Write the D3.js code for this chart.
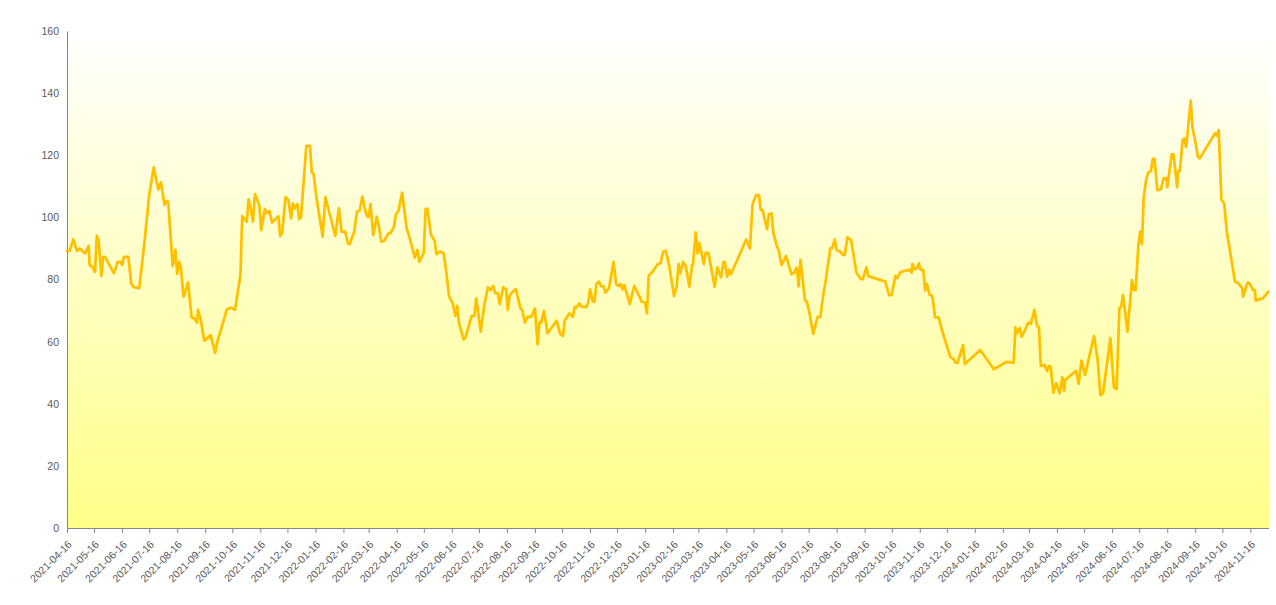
<!DOCTYPE html>
<html><head><meta charset="utf-8">
<script src="https://cdn.jsdelivr.net/npm/d3@7"></script>
<style>
html,body{margin:0;padding:0;background:#fff;}
svg{display:block;font-family:"Liberation Sans",Arial,sans-serif;}
</style>
</head><body>
<svg id="c" width="1276" height="605"></svg>
<script>
// ---- data ----
const startDate = "2021-04-16";
// days since startDate
const dayOffsets = [
0,3,7,11,14,20,24,25,28,31,33,35,38,40,42,52,56,59,61,63,68,71,74,80,86,91,96,101,104,108,110,112,115,117,120,122,124,126,129,134,138,141,144,145,148,152,159,164,166,177,182,186,192,194,199,201,203,206,208,213,215,219,221,224,227,234,236,238,242,245,248,250,252,255,257,259,265,269,271,273,276,283,286,297,301,
304,308,311,313,318,321,324,327,329,332,334,336,339,343,345,348,351,356,358,362,364,367,371,376,380,385,388,390,395,397,399,403,407,409,413,417,420,423,427,430,432,434,439,441,448,451,453,458,462,466,469,472,474,477,479,483,486,488,490,493,497,502,504,507,510,514,518,521,523,525,528,532,
542,546,549,551,556,560,562,564,567,570,575,577,579,582,584,586,589,591,594,596,600,605,608,611,613,615,617,623,628,634,636,640,642,644,649,654,657,660,663,667,672,675,677,679,682,685,689,692,693,696,698,700,705,707,710,717,720,724,727,728,731,733,735,752,756,759,763,766,768,770,775,777,780,782,786,788,
791,796,802,805,808,810,812,817,819,822,826,831,834,837,840,845,847,850,852,856,859,861,864,868,874,879,881,885,887,906,910,913,917,919,923,928,930,933,934,935,936,938,941,943,945,948,950,952,955,958,961,965,968,973,978,981,984,986,992,994,1011,1026,1040,1048,
1050,1052,1055,1057,1061,1064,1067,1071,1074,1076,1078,1082,1085,1087,1089,1092,1095,1099,1102,1104,1105,1117,1120,1123,1127,1137,1141,1144,1147,1155,1159,1162,1165,1167,1169,1174,1179,1181,1183,1186,1188,1190,
1192,1195,1197,1200,1202,1204,1207,1211,1214,1217,1218,1223,1225,1229,1230,1232,1235,1237,1239,1244,1246,1249,1252,1254,1271,1273,1275,1278,1281,1284,1293,1296,1301,1302,1307,1309,1313,1315,1316,1324,1330
];
const values = [
89.2,89.2,92.9,89.2,90.0,88.4,90.8,84.7,84.1,82.5,94.1,92.7,81.2,87.3,87.3,82.0,85.7,85.7,84.7,87.3,87.3,78.8,77.5,77.2,92.7,107.2,116.1,109.0,111.3,104.0,105.3,105.0,92.7,84.3,89.5,81.8,85.7,84.1,74.5,79.1,67.8,67.5,66.1,70.2,67.0,60.3,62.1,56.4,59.5,70.4,70.9,70.2,81.5,100.4,98.6,105.8,103.4,98.6,107.5,103.7,95.9,102.7,101.3,102.1,98.3,100.4,94.0,94.8,106.5,105.6,99.7,104.5,102.9,104.3,99.4,100.0,123.0,123.0,114.4,114.0,106.7,93.8,106.5,94.0,102.9,
95.4,95.4,91.6,91.4,95.4,101.8,102.2,106.7,103.7,100.4,100.2,104.3,94.3,100.2,97.5,92.2,92.4,94.9,94.9,97.0,100.8,102.1,108.0,96.5,92.7,87.0,89.5,85.7,88.6,102.7,102.7,94.3,92.5,88.2,89.0,88.4,82.2,74.5,72.3,68.3,71.5,65.9,60.7,61.1,68.3,68.3,73.9,63.2,71.8,77.5,76.6,77.9,75.6,75.6,72.1,77.5,76.8,70.2,74.8,75.9,76.9,70.7,70.2,66.2,68.0,68.0,70.7,59.1,66.1,66.1,69.9,62.7,
66.7,62.5,61.8,66.7,69.1,68.0,71.2,70.9,72.3,71.2,71.2,72.5,76.8,72.9,72.9,78.6,79.3,77.9,77.9,75.8,77.2,85.7,78.5,77.9,78.5,76.8,78.2,72.1,77.9,74.3,72.9,72.5,69.1,81.2,82.8,85.0,85.2,89.0,89.2,83.9,74.7,77.7,85.0,82.0,85.7,84.3,77.7,84.7,84.7,95.2,88.4,91.7,85.0,88.6,88.6,77.7,83.9,80.7,85.7,85.7,80.9,83.1,81.7,92.9,90.0,104.3,107.2,107.2,102.4,102.4,96.2,101.0,101.3,94.9,90.6,89.3,
84.7,87.6,81.7,82.2,83.8,77.9,86.3,73.2,72.9,69.1,62.5,68.0,68.0,74.5,79.8,90.0,90.0,92.9,89.5,89.0,87.9,87.9,93.6,92.7,82.2,80.1,80.1,83.9,81.1,79.3,75.0,75.0,81.2,80.4,82.5,82.8,83.1,82.8,83.3,82.2,85.0,83.3,83.6,85.2,83.1,83.1,76.4,78.6,75.0,74.7,67.8,67.8,64.3,59.5,55.0,54.6,53.2,53.2,58.9,52.8,57.3,51.1,53.5,53.2,
64.6,62.7,64.3,61.6,64.0,66.1,65.7,70.2,65.0,64.8,52.2,52.5,50.6,52.2,51.9,43.6,46.6,43.4,48.5,44.2,47.6,50.6,46.4,53.9,49.3,61.8,54.1,42.8,43.4,61.1,45.3,44.7,70.7,71.2,75.0,63.2,79.8,76.6,76.6,90.8,95.4,91.4,
106.7,112.6,114.4,115.0,118.8,118.8,108.8,109.0,112.6,112.6,109.7,120.3,120.3,109.7,114.7,115.0,124.9,125.4,122.6,137.6,128.7,124.4,119.5,119.0,127.1,126.3,128.1,105.6,104.5,95.4,79.3,79.0,77.2,74.5,79.0,78.8,76.6,76.6,73.2,74.0,76.1
];
const yTicks = [0,20,40,60,80,100,120,140,160];
const xTickLabels = [
"2021-04-16","2021-05-16","2021-06-16","2021-07-16","2021-08-16","2021-09-16","2021-10-16","2021-11-16","2021-12-16",
"2022-01-16","2022-02-16","2022-03-16","2022-04-16","2022-05-16","2022-06-16","2022-07-16","2022-08-16","2022-09-16","2022-10-16","2022-11-16","2022-12-16",
"2023-01-16","2023-02-16","2023-03-16","2023-04-16","2023-05-16","2023-06-16","2023-07-16","2023-08-16","2023-09-16","2023-10-16","2023-11-16","2023-12-16",
"2024-01-16","2024-02-16","2024-03-16","2024-04-16","2024-05-16","2024-06-16","2024-07-16","2024-08-16","2024-09-16","2024-10-16","2024-11-16"
];

// ---- chart ----
const W = 1276, H = 605;
const m = {top: 31, right: 7.6, bottom: 77, left: 67};
const parse = d3.utcParse("%Y-%m-%d");
const t0 = parse(startDate);
const data = dayOffsets.map((d, i) => ({date: d3.utcDay.offset(t0, d), value: values[i]}));

const x = d3.scaleUtc().domain(d3.extent(data, d => d.date)).range([m.left, W - m.right]);
const y = d3.scaleLinear().domain([0, 160]).range([H - m.bottom, m.top]);

const svg = d3.select("#c");
const defs = svg.append("defs");
const grad = defs.append("linearGradient").attr("id", "bg").attr("x1", 0).attr("y1", 0).attr("x2", 0).attr("y2", 1);
grad.append("stop").attr("offset", "0%").attr("stop-color", "#ffffff");
grad.append("stop").attr("offset", "100%").attr("stop-color", "#ffff88");

svg.append("rect")
  .attr("x", m.left).attr("y", m.top)
  .attr("width", W - m.right - m.left + 0.6).attr("height", H - m.bottom - m.top)
  .attr("fill", "url(#bg)");

const axisColor = "#868686", textColor = "#595959";

const yAxis = svg.append("g").attr("transform", `translate(${m.left},0)`)
  .call(d3.axisLeft(y).tickValues(yTicks).tickSize(0).tickPadding(8).tickSizeOuter(0));
yAxis.select(".domain").attr("stroke", axisColor);
yAxis.selectAll("text").attr("fill", textColor).style("font-size", "10.5px");

const xAxis = svg.append("g").attr("transform", `translate(0,${H - m.bottom})`)
  .call(d3.axisBottom(x).tickValues(xTickLabels.map(parse)).tickSize(5).tickSizeOuter(0)
    .tickFormat(d3.utcFormat("%Y-%m-%d")));
xAxis.select(".domain").attr("stroke", axisColor);
xAxis.selectAll(".tick line").attr("stroke", axisColor);
xAxis.selectAll("text")
  .attr("fill", textColor).style("font-size", "10.5px")
  .attr("text-anchor", "end")
  .attr("dy", "0")
  .attr("y", 0)
  .attr("transform", "translate(5,17) rotate(-45)");

const line = d3.line().x(d => x(d.date)).y(d => y(d.value));
svg.append("path").datum(data)
  .attr("d", line)
  .attr("fill", "none")
  .attr("stroke", "#ffc000")
  .attr("stroke-width", 2.75)
  .attr("stroke-linejoin", "round")
  .attr("stroke-linecap", "round");
</script>
</body></html>
